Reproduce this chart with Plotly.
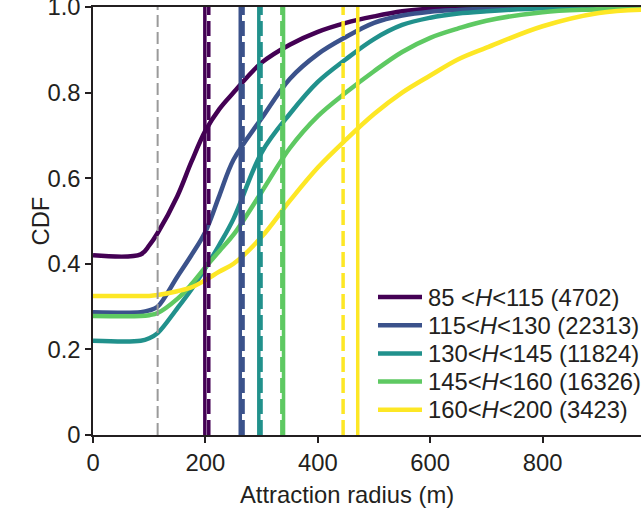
import plotly.graph_objects as go

# Attraction radius grid (m)
radius = [0, 85, 100, 115, 150, 175, 200, 225, 250, 300, 350, 400, 450, 500, 550, 600, 650, 700, 800, 900, 980]

cdf_85_115 = [0.42, 0.422, 0.443, 0.472, 0.558, 0.638, 0.711, 0.762, 0.80, 0.87, 0.912, 0.942, 0.963, 0.978, 0.99, 0.996, 0.998, 1.0, 1.0, 1.0, 1.0]
cdf_115_130 = [0.287, 0.287, 0.291, 0.30, 0.37, 0.42, 0.475, 0.56, 0.643, 0.74, 0.832, 0.89, 0.93, 0.963, 0.98, 0.989, 0.993, 0.996, 0.999, 1.0, 1.0]
cdf_130_145 = [0.22, 0.22, 0.226, 0.238, 0.296, 0.34, 0.39, 0.445, 0.505, 0.66, 0.75, 0.825, 0.878, 0.925, 0.958, 0.975, 0.985, 0.99, 0.997, 0.999, 1.0]
cdf_145_160 = [0.278, 0.278, 0.28, 0.285, 0.318, 0.352, 0.392, 0.43, 0.468, 0.568, 0.67, 0.745, 0.80, 0.85, 0.895, 0.928, 0.95, 0.968, 0.988, 0.995, 1.0]
cdf_160_200 = [0.325, 0.325, 0.325, 0.327, 0.336, 0.345, 0.362, 0.382, 0.40, 0.463, 0.547, 0.625, 0.69, 0.75, 0.80, 0.84, 0.878, 0.905, 0.955, 0.986, 0.994]

series_labels = [
    "85 &lt;<i>H</i>&lt;115 (4702)",
    "115&lt;<i>H</i>&lt;130 (22313)",
    "130&lt;<i>H</i>&lt;145 (11824)",
    "145&lt;<i>H</i>&lt;160 (16326)",
    "160&lt;<i>H</i>&lt;200 (3423)",
]
series_colors = ["#440154", "#3b528b", "#21918c", "#5ec962", "#fde725"]
series_values = [cdf_85_115, cdf_115_130, cdf_130_145, cdf_145_160, cdf_160_200]

# vertical reference lines (m)
solid_lines = [199, 262, 295, 339, 471]
dashed_lines = [206, 267, 299, 336, 445]
gray_line = 115

x_ticks = [0, 200, 400, 600, 800]
y_ticks = [0, 0.2, 0.4, 0.6, 0.8, 1.0]
y_ticktext = ["0", "0.2", "0.4", "0.6", "0.8", "1.0"]

ink = "#231f20"
font_family = "Liberation Sans, Arial, sans-serif"
fs = 23.8

W, H = 641, 514
ML, MR, MT, MB = 93, 0, 7, 79
PW, PH = W - ML - MR, H - MT - MB


def px_x(px):
    return (px - ML) / PW


def px_y(py):
    return (H - MB - py) / PH


fig = go.Figure()

for lab, col, vals in zip(series_labels, series_colors, series_values):
    fig.add_trace(go.Scatter(
        x=radius, y=vals, mode="lines", name=lab, showlegend=False,
        line=dict(color=col, width=4.5, shape="spline", smoothing=1.0),
    ))

fig.add_trace(go.Scatter(
    x=[gray_line, gray_line], y=[0, 1], mode="lines", showlegend=False,
    line=dict(color="#9a9a9a", width=2, dash="12px,5px"),
))

for col, s, d in zip(series_colors, solid_lines, dashed_lines):
    fig.add_trace(go.Scatter(
        x=[s, s], y=[0, 1], mode="lines", showlegend=False,
        line=dict(color=col, width=3.5),
    ))
    fig.add_trace(go.Scatter(
        x=[d, d], y=[0, 1], mode="lines", showlegend=False,
        line=dict(color=col, width=3.5, dash="15px,6px"),
    ))

# legend (drawn manually to match the compact row spacing)
row_y0, row_step = 297, 28.2
for i, (lab, col) in enumerate(zip(series_labels, series_colors)):
    yy = px_y(row_y0 + i * row_step)
    fig.add_shape(type="line", xref="paper", yref="paper",
                  x0=px_x(378), x1=px_x(422), y0=yy, y1=yy,
                  line=dict(color=col, width=4.5))
    fig.add_annotation(text=lab, xref="paper", yref="paper",
                       x=px_x(426), y=yy, xanchor="left", yanchor="middle",
                       showarrow=False, align="left",
                       font=dict(family=font_family, size=fs, color=ink))

axis_common = dict(
    showgrid=False, zeroline=False, showline=True, linecolor=ink, linewidth=1.5,
    ticks="outside", ticklen=6, tickwidth=1.5, tickcolor=ink, automargin=False,
    ticklabeloverflow="allow",
    tickfont=dict(family=font_family, size=fs, color=ink),
)

fig.update_xaxes(range=[0, 975], tickvals=x_ticks, mirror=True, **axis_common)
fig.update_yaxes(range=[0, 1], tickvals=y_ticks, ticktext=y_ticktext, **axis_common)

fig.add_annotation(text="Attraction radius (m)", xref="paper", yref="paper",
                   x=px_x(347), y=px_y(495), showarrow=False, yanchor="middle",
                   font=dict(family=font_family, size=fs, color=ink))
fig.add_annotation(text="CDF", xref="paper", yref="paper",
                   x=px_x(24), y=0.5, showarrow=False, textangle=-90,
                   font=dict(family=font_family, size=fs, color=ink))

fig.update_layout(
    width=W, height=H,
    margin=dict(l=ML, r=MR, t=MT, b=MB),
    plot_bgcolor="white", paper_bgcolor="white",
    showlegend=False,
)

fig.write_html("out.html", config={"displayModeBar": False},
               post_script="document.body.style.margin='0';document.body.style.overflow='hidden';")
